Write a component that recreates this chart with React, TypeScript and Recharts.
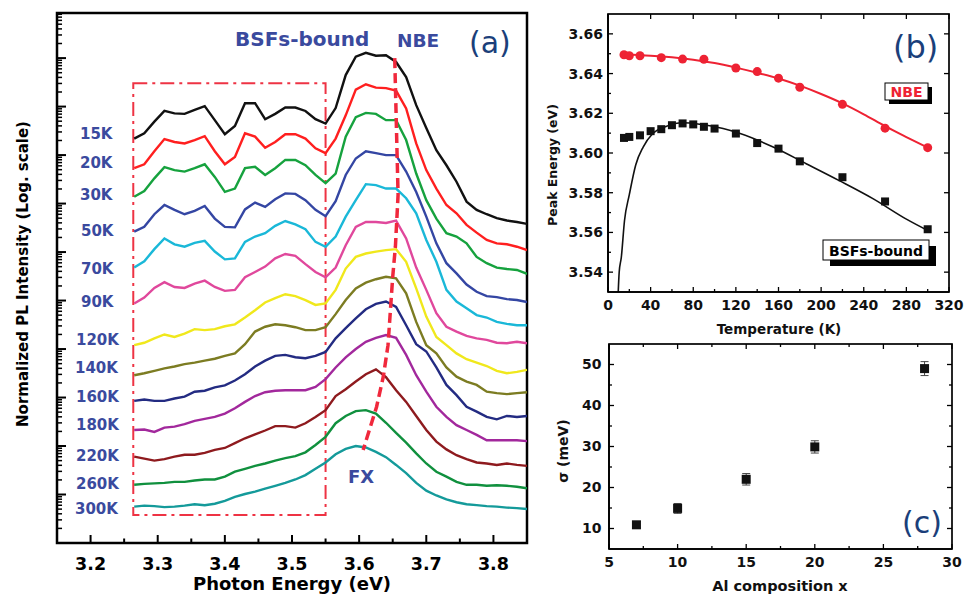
import React from 'react';
import { ComposedChart, Line, XAxis, YAxis, ReferenceArea, ReferenceLine, Scatter, ErrorBar } from 'recharts';

// ---------- Panel (a): PL spectra (log10 of normalized intensity) ----------
const energies = [3.265, 3.28, 3.295, 3.31, 3.325, 3.34, 3.355, 3.37, 3.385, 3.4, 3.415, 3.43, 3.445, 3.46, 3.475, 3.49, 3.505, 3.52, 3.535, 3.55, 3.565, 3.58, 3.595, 3.61, 3.625, 3.64, 3.655, 3.67, 3.685, 3.7, 3.715, 3.73, 3.745, 3.76, 3.775, 3.79, 3.805, 3.82, 3.835, 3.85];
const tempLabels = ['15K', '20K', '30K', '50K', '70K', '90K', '120K', '140K', '160K', '180K', '220K', '260K', '300K'];
const s15 = [8.34, 8.45, 8.69, 8.91, 8.86, 8.85, 8.93, 9.01, 8.72, 8.43, 8.6, 9.07, 9.07, 8.74, 8.85, 8.98, 8.98, 8.91, 8.74, 8.65, 8.97, 9.65, 10.03, 10.11, 10.05, 10.06, 9.92, 9.61, 9.03, 8.56, 8.1, 7.79, 7.45, 7.04, 6.87, 6.78, 6.7, 6.65, 6.62, 6.58];
const s20 = [7.73, 7.81, 8.08, 8.33, 8.27, 8.24, 8.31, 8.39, 8.08, 7.81, 7.96, 8.45, 8.38, 8.15, 8.27, 8.43, 8.43, 8.34, 8.14, 8.04, 8.34, 8.82, 9.35, 9.46, 9.39, 9.38, 9.33, 8.96, 8.24, 7.69, 7.31, 6.97, 6.8, 6.56, 6.4, 6.25, 6.18, 6.16, 6.11, 6.04];
const s30 = [7.14, 7.26, 7.52, 7.75, 7.69, 7.66, 7.73, 7.81, 7.55, 7.24, 7.31, 7.73, 7.76, 7.59, 7.73, 7.9, 7.9, 7.79, 7.59, 7.42, 7.62, 8.38, 8.78, 8.87, 8.85, 8.72, 8.72, 8.31, 7.62, 7.07, 6.69, 6.39, 6.32, 6.18, 5.9, 5.77, 5.68, 5.65, 5.63, 5.55];
const s50 = [6.42, 6.52, 6.78, 6.97, 6.87, 6.78, 6.85, 6.95, 6.69, 6.52, 6.51, 6.88, 7.02, 6.93, 7.09, 7.21, 7.2, 7.07, 6.87, 6.74, 7.05, 7.59, 7.93, 8.08, 8.04, 8.0, 8.0, 7.66, 7.24, 6.73, 6.18, 5.77, 5.56, 5.33, 5.18, 5.09, 5.07, 5.03, 5.01, 4.97];
const s70 = [5.68, 5.81, 6.06, 6.28, 6.16, 6.11, 6.19, 6.23, 6.01, 5.85, 5.87, 6.21, 6.32, 6.39, 6.54, 6.64, 6.57, 6.47, 6.21, 6.11, 6.32, 6.73, 7.07, 7.4, 7.38, 7.31, 7.31, 7.11, 6.8, 6.25, 5.8, 5.22, 4.98, 4.84, 4.7, 4.65, 4.56, 4.52, 4.49, 4.49];
const s90 = [4.94, 5.06, 5.26, 5.38, 5.28, 5.26, 5.35, 5.41, 5.28, 5.2, 5.22, 5.48, 5.59, 5.7, 5.87, 5.96, 5.92, 5.75, 5.59, 5.48, 5.68, 6.14, 6.52, 6.62, 6.62, 6.6, 6.65, 6.28, 5.68, 5.22, 4.74, 4.46, 4.36, 4.27, 4.22, 4.19, 4.13, 4.12, 4.15, 4.12];
const s120 = [4.08, 4.13, 4.22, 4.3, 4.25, 4.32, 4.41, 4.39, 4.41, 4.47, 4.51, 4.65, 4.8, 4.96, 5.05, 5.13, 5.09, 5.01, 4.91, 4.94, 5.22, 5.66, 5.9, 5.97, 6.01, 6.04, 6.06, 5.8, 5.25, 4.67, 4.25, 4.08, 3.91, 3.79, 3.72, 3.65, 3.55, 3.5, 3.53, 3.57];
const s140 = [3.46, 3.5, 3.55, 3.6, 3.64, 3.69, 3.72, 3.76, 3.8, 3.86, 3.91, 4.1, 4.36, 4.46, 4.51, 4.49, 4.45, 4.39, 4.39, 4.45, 4.72, 5.01, 5.25, 5.37, 5.44, 5.49, 5.46, 5.15, 4.56, 4.08, 3.91, 3.62, 3.43, 3.33, 3.26, 3.12, 3.09, 3.07, 3.09, 3.11];
const s160 = [2.93, 2.96, 2.93, 2.93, 2.98, 3.02, 3.12, 3.14, 3.21, 3.25, 3.35, 3.48, 3.64, 3.76, 3.86, 3.88, 3.83, 3.81, 3.86, 3.94, 4.22, 4.43, 4.63, 4.82, 4.93, 4.98, 4.87, 4.49, 4.1, 3.95, 3.62, 3.26, 3.05, 2.81, 2.71, 2.6, 2.55, 2.62, 2.6, 2.62];
const s180 = [2.33, 2.34, 2.29, 2.38, 2.4, 2.45, 2.52, 2.56, 2.6, 2.67, 2.78, 2.91, 3.03, 3.11, 3.14, 3.15, 3.15, 3.15, 3.22, 3.38, 3.62, 3.83, 4.0, 4.15, 4.23, 4.29, 4.23, 3.88, 3.46, 3.12, 2.81, 2.6, 2.43, 2.33, 2.23, 2.12, 2.12, 2.12, 2.12, 2.1];
const s220 = [1.78, 1.74, 1.7, 1.73, 1.78, 1.82, 1.82, 1.86, 1.92, 1.96, 2.06, 2.16, 2.24, 2.32, 2.41, 2.41, 2.38, 2.47, 2.6, 2.74, 3.03, 3.17, 3.33, 3.48, 3.58, 3.42, 3.15, 2.91, 2.62, 2.33, 2.09, 1.93, 1.81, 1.73, 1.66, 1.64, 1.61, 1.64, 1.61, 1.59];
const s260 = [1.2, 1.22, 1.23, 1.24, 1.26, 1.26, 1.29, 1.31, 1.31, 1.37, 1.47, 1.53, 1.59, 1.64, 1.7, 1.75, 1.79, 1.87, 2.02, 2.19, 2.47, 2.62, 2.72, 2.74, 2.67, 2.48, 2.27, 2.07, 1.85, 1.64, 1.47, 1.37, 1.26, 1.2, 1.2, 1.18, 1.19, 1.18, 1.16, 1.13];
const s300 = [0.75, 0.77, 0.76, 0.74, 0.75, 0.77, 0.8, 0.78, 0.81, 0.87, 0.95, 1.01, 1.06, 1.12, 1.18, 1.24, 1.31, 1.4, 1.53, 1.66, 1.83, 1.94, 2.0, 1.97, 1.88, 1.77, 1.61, 1.44, 1.24, 1.08, 0.98, 0.9, 0.84, 0.8, 0.78, 0.76, 0.75, 0.73, 0.72, 0.7];
const spectra = [s15, s20, s30, s50, s70, s90, s120, s140, s160, s180, s220, s260, s300];
const specColors = ['#111111', '#ff1f1f', '#16a23e', '#3446a3', '#1ab8d8', '#e0489c', '#f0e81c', '#7c7c22', '#232b82', '#a2289c', '#8e1a1e', '#10903e', '#149a9a'];

// NBE guide line (dashed) through the peak positions
const nbeGuideE = [3.653, 3.658, 3.654, 3.65, 3.643, 3.636, 3.626, 3.606];
const nbeGuideV = [10.0, 7.18, 6.11, 5.49, 4.08, 3.43, 2.81, 1.92];
// BSF region box
const boxE = [3.2636, 3.55];
const boxV = [0.58, 9.48];

const xMajA = [3.2, 3.3, 3.4, 3.5, 3.6, 3.7, 3.8];
const xMinA = [3.25, 3.35, 3.45, 3.55, 3.65, 3.75];
const yMajA = [1, 2, 3, 4, 5, 6, 7, 8, 9, 10];
const yMinA: number[] = [];
for (let k = 0; k <= 10; k++) for (let m = 2; m <= 9; m++) { const v = k + Math.log10(m); if (v < 10.93) yMinA.push(v); }

const specRows = energies.map((e, i) => {
  const r: any = { e };
  spectra.forEach((s, k) => { r[tempLabels[k]] = s[i]; });
  return r;
});
const nbeGuideRows = nbeGuideE.map((e, i) => ({ e, v: nbeGuideV[i] }));

// ---------- Panel (b): peak energies ----------
const nbeT = [15, 20, 30, 50, 70, 90, 120, 140, 160, 180, 220, 260, 300];
const nbeE = [3.6495, 3.649, 3.649, 3.648, 3.6473, 3.6472, 3.6428, 3.641, 3.6377, 3.6331, 3.6245, 3.6125, 3.6027];
const bsfT = [15, 20, 30, 40, 50, 60, 70, 80, 90, 100, 120, 140, 160, 180, 220, 260, 300];
const bsfE = [3.6076, 3.6081, 3.6089, 3.611, 3.612, 3.614, 3.6149, 3.6144, 3.6132, 3.6123, 3.6098, 3.605, 3.6022, 3.5958, 3.5878, 3.5756, 3.5616];
const nbeFitT = [15, 40, 60, 80, 100, 120, 140, 160, 180, 200, 220, 240, 260, 280, 300];
const nbeFitE = [3.6496, 3.649, 3.6482, 3.647, 3.6453, 3.643, 3.6404, 3.6375, 3.6339, 3.6297, 3.625, 3.6195, 3.6135, 3.608, 3.6027];
const bsfFitT = [9.6, 10.5, 12.5, 15.5, 20, 26, 33, 42, 55, 70, 86, 108, 124, 155, 186, 217, 249, 280, 300];
const bsfFitE = [3.53, 3.54, 3.5475, 3.566, 3.579, 3.594, 3.603, 3.6098, 3.6135, 3.6152, 3.6145, 3.6123, 3.6098, 3.603, 3.5946, 3.5861, 3.5769, 3.5667, 3.561];
const xMajB = [0, 40, 80, 120, 160, 200, 240, 280, 320];
const xMinB = [20, 60, 100, 140, 180, 220, 260, 300];
const yMajB = [3.54, 3.56, 3.58, 3.6, 3.62, 3.64, 3.66];
const yMinB = [3.55, 3.57, 3.59, 3.61, 3.63, 3.65];

const nbeRows = nbeT.map((t, i) => ({ t, e: nbeE[i] }));
const bsfRows = bsfT.map((t, i) => ({ t, e: bsfE[i] }));
const nbeFitRows = nbeFitT.map((t, i) => ({ t, e: nbeFitE[i] }));
const bsfFitRows = bsfFitT.map((t, i) => ({ t, e: bsfFitE[i] }));

// ---------- Panel (c): sigma vs Al composition ----------
const alX = [7, 10, 15, 20, 28];
const sigma = [10.9, 14.9, 22.0, 29.9, 49.0];
const sigmaErr = [0.8, 1.2, 1.4, 1.5, 1.7];
const xMajC = [5, 10, 15, 20, 25, 30];
const xMinC = [7.5, 12.5, 17.5, 22.5, 27.5];
const yMajC = [10, 20, 30, 40, 50];
const yMinC = [15, 25, 35, 45];
const cRows = alX.map((x, i) => ({ x, s: sigma[i], err: sigmaErr[i] }));

const FONT = 'DejaVu Sans';
const BLUE = '#3a4a9e';
const PANEL_LBL = '#1b3f7a';

// ---- panel (a) tick marks: reference segments ----
function xTicks(id: string, vals: number[], at: number, len: number, sw: number) {
  return vals.map((v, i) => (
    <ReferenceLine key={`${id}-${i}`} xAxisId="x" yAxisId="y" ifOverflow="visible" stroke="#000" strokeWidth={sw}
      segment={[{ x: v, y: at }, { x: v, y: at + len }]} />
  ));
}
function yTicks(id: string, vals: number[], at: number, len: number, sw: number) {
  return vals.map((v, i) => (
    <ReferenceLine key={`${id}-${i}`} xAxisId="x" yAxisId="y" ifOverflow="visible" stroke="#000" strokeWidth={sw}
      segment={[{ x: at, y: v }, { x: at + len, y: v }]} />
  ));
}

// ---- frame + inward ticks for panels (b),(c) (plot-area geometry set by the chart margins below) ----
type Box = { left: number; top: number; w: number; h: number; x0: number; x1: number; y0: number; y1: number };
function Frame({ b, xMaj, xMin, yMaj, yMin, topMinor, rightMinor }: { b: Box; xMaj: number[]; xMin: number[]; yMaj: number[]; yMin: number[]; topMinor: boolean; rightMinor: boolean }) {
  const px = (v: number) => b.left + ((v - b.x0) / (b.x1 - b.x0)) * b.w;
  const py = (v: number) => b.top + ((b.y1 - v) / (b.y1 - b.y0)) * b.h;
  const bottom = b.top + b.h, right = b.left + b.w;
  const L: any[] = [];
  xMaj.forEach((v, i) => { L.push(<line key={`xb${i}`} x1={px(v)} x2={px(v)} y1={bottom} y2={bottom - 5} />); L.push(<line key={`xt${i}`} x1={px(v)} x2={px(v)} y1={b.top} y2={b.top + 5} />); });
  xMin.forEach((v, i) => { L.push(<line key={`xbm${i}`} x1={px(v)} x2={px(v)} y1={bottom} y2={bottom - 3} />); if (topMinor) L.push(<line key={`xtm${i}`} x1={px(v)} x2={px(v)} y1={b.top} y2={b.top + 3} />); });
  yMaj.forEach((v, i) => { L.push(<line key={`yl${i}`} x1={b.left} x2={b.left + 5} y1={py(v)} y2={py(v)} />); L.push(<line key={`yr${i}`} x1={right} x2={right - 5} y1={py(v)} y2={py(v)} />); });
  yMin.forEach((v, i) => { L.push(<line key={`ylm${i}`} x1={b.left} x2={b.left + 3} y1={py(v)} y2={py(v)} />); if (rightMinor) L.push(<line key={`yrm${i}`} x1={right} x2={right - 3} y1={py(v)} y2={py(v)} />); });
  return (
    <g stroke="#000" strokeWidth={1.3}>
      {L}
      <rect x={b.left} y={b.top} width={b.w} height={b.h} fill="none" strokeWidth={1.7} />
    </g>
  );
}
const boxB: Box = { left: 540 + 68, top: 14, w: 424 - 68 - 15, h: 340 - 14 - 48, x0: 0, x1: 320, y0: 3.53, y1: 3.67 };
const boxC: Box = { left: 540 + 69, top: 330 + 14, w: 424 - 69 - 12, h: 265 - 14 - 46, x0: 5, x1: 30, y0: 5, y1: 55 };

function ChartA() {
  const dom: [number, number] = [3.15, 3.85];
  const ydom: [number, number] = [0, 10.93];
  return (
    <ComposedChart width={540} height={595} data={specRows} margin={{ top: 13, right: 13, bottom: 0, left: 57 }}>
      <XAxis xAxisId="x" dataKey="e" type="number" domain={dom} allowDataOverflow ticks={xMajA} interval={0} height={52}
        tickSize={0} tickMargin={14.6} tickLine={false} axisLine={false}
        tick={{ fontSize: 17.5, fontWeight: 'bold', fill: '#000', fontFamily: FONT }} />
      <YAxis yAxisId="y" type="number" domain={ydom} allowDataOverflow width={0} tick={false} tickLine={false} axisLine={false} />
      <ReferenceArea xAxisId="x" yAxisId="y" x1={boxE[0]} x2={boxE[1]} y1={boxV[0]} y2={boxV[1]}
        fill="none" fillOpacity={0} stroke="#ee3344" strokeWidth={2} strokeDasharray="14 5 3 5" ifOverflow="visible" />
      {tempLabels.map((t, k) => (
        <Line key={t} xAxisId="x" yAxisId="y" dataKey={t} type="linear" stroke={specColors[k]} strokeWidth={2.4}
          dot={false} activeDot={false} isAnimationActive={false} />
      ))}
      <Line xAxisId="x" yAxisId="y" data={nbeGuideRows} dataKey="v" type="linear" stroke="#f0283c" strokeWidth={3.5}
        strokeDasharray="10 5" dot={false} activeDot={false} isAnimationActive={false} />
      {xTicks('axM', xMajA, 0, 0.165, 2)}
      {xTicks('axm', xMinA, 0, 0.093, 2)}
      {yTicks('ayM', yMajA, 3.15, 0.0134, 2)}
      {yTicks('aym', yMinA, 3.15, 0.0075, 1.5)}
      <ReferenceArea xAxisId="x" yAxisId="y" x1={dom[0]} x2={dom[1]} y1={ydom[0]} y2={ydom[1]}
        fill="none" fillOpacity={0} stroke="#000" strokeWidth={2.5} ifOverflow="visible" />
    </ComposedChart>
  );
}

function ChartB() {
  const dom: [number, number] = [0, 320];
  const ydom: [number, number] = [3.53, 3.67];
  const tickStyle = { fontSize: 14, fontWeight: 'bold', fill: '#111', fontFamily: FONT };
  return (
    <ComposedChart width={424} height={340} data={bsfRows} margin={{ top: 14, right: 15, bottom: 0, left: 0 }}>
      <XAxis xAxisId="x" dataKey="t" type="number" domain={dom} ticks={xMajB} interval={0} height={48}
        tickSize={0} tickMargin={8} tickLine={false} axisLine={{ stroke: '#000', strokeWidth: 1.7 }} tick={tickStyle} />
      <YAxis yAxisId="y" type="number" domain={ydom} ticks={yMajB} interval={0} width={68}
        tickSize={0} tickMargin={5} tickLine={false} axisLine={{ stroke: '#000', strokeWidth: 1.7 }} tick={tickStyle}
        tickFormatter={(v: number) => v.toFixed(2)} />
      <Line xAxisId="x" yAxisId="y" data={nbeFitRows} dataKey="e" type="monotone" stroke="#ee2233" strokeWidth={2}
        dot={false} activeDot={false} isAnimationActive={false} />
      <Line xAxisId="x" yAxisId="y" data={bsfFitRows} dataKey="e" type="monotone" stroke="#111" strokeWidth={1.6}
        dot={false} activeDot={false} isAnimationActive={false} />
      <Scatter xAxisId="x" yAxisId="y" data={nbeRows} dataKey="e" isAnimationActive={false}
        shape={(p: any) => <circle cx={p.cx} cy={p.cy} r={4.5} fill="#ee2233" />} />
      <Scatter xAxisId="x" yAxisId="y" data={bsfRows} dataKey="e" isAnimationActive={false}
        shape={(p: any) => <rect x={p.cx - 4} y={p.cy - 4} width={8} height={8} fill="#111" />} />
    </ComposedChart>
  );
}

function ChartC() {
  const dom: [number, number] = [5, 30];
  const ydom: [number, number] = [5, 55];
  const tickStyle = { fontSize: 14, fontWeight: 'bold', fill: '#111', fontFamily: FONT };
  return (
    <ComposedChart width={424} height={265} data={cRows} margin={{ top: 14, right: 12, bottom: 0, left: 0 }}>
      <XAxis xAxisId="x" dataKey="x" type="number" domain={dom} ticks={xMajC} interval={0} height={46}
        tickSize={0} tickMargin={8} tickLine={false} axisLine={{ stroke: '#000', strokeWidth: 1.7 }} tick={tickStyle} />
      <YAxis yAxisId="y" type="number" domain={ydom} ticks={yMajC} interval={0} width={69}
        tickSize={0} tickMargin={7.6} tickLine={false} axisLine={{ stroke: '#000', strokeWidth: 1.7 }} tick={tickStyle} />
      <Scatter xAxisId="x" yAxisId="y" dataKey="s" isAnimationActive={false}
        shape={(p: any) => <rect x={p.cx - 4.5} y={p.cy - 4.5} width={9} height={9} fill="#111" />}>
        <ErrorBar dataKey="err" direction="y" width={4} stroke="#444" strokeWidth={1} />
      </Scatter>
    </ComposedChart>
  );
}

const tempLabelPos = [
  [80, 133.6], [80, 162.7], [80, 195], [81, 231], [81, 269], [81, 302], [76, 339.7],
  [75, 368], [76, 397], [76, 425], [76, 456], [76, 483.5], [75, 509],
];

export default function App() {
  return (
    <div style={{ position: 'absolute', left: 0, top: 0, width: 964, height: 595, background: '#fff', overflow: 'hidden', fontFamily: FONT }}>
      <div style={{ position: 'absolute', left: 0, top: 0 }}><ChartA /></div>
      <div style={{ position: 'absolute', left: 540, top: 0 }}><ChartB /></div>
      <div style={{ position: 'absolute', left: 540, top: 330 }}><ChartC /></div>
      <svg width={964} height={595} style={{ position: 'absolute', left: 0, top: 0, pointerEvents: 'none' }} fontFamily={FONT}>
        <Frame b={boxB} xMaj={xMajB} xMin={xMinB} yMaj={yMajB} yMin={yMinB} topMinor={false} rightMinor={false} />
        <Frame b={boxC} xMaj={xMajC} xMin={xMinC} yMaj={yMajC} yMin={yMinC} topMinor={true} rightMinor={true} />
        {/* panel (a) */}
        <text x={235} y={45.5} fontSize={20} fontWeight="bold" fill={BLUE}>BSFs-bound</text>
        <text x={397} y={47} fontSize={18.5} fontWeight="bold" fill={BLUE}>NBE</text>
        <text x={469} y={52.5} fontSize={30} fill={PANEL_LBL}>(a)</text>
        {tempLabels.map((t, k) => (
          <text key={t} x={tempLabelPos[k][0]} y={tempLabelPos[k][1] + 5.4} fontSize={15} fontWeight="bold" fill={BLUE}>{t}</text>
        ))}
        <text x={348} y={483} fontSize={18} fontWeight="bold" fill={BLUE}>FX</text>
        <text transform="translate(28,274) rotate(-90)" textAnchor="middle" fontSize={15} fontWeight="bold" fill="#000">Normalized PL Intensity (Log. scale)</text>
        <text x={292} y={590} textAnchor="middle" fontSize={18} fontWeight="bold" fill="#000">Photon Energy (eV)</text>
        {/* panel (b) */}
        <text x={893} y={57.5} fontSize={32} fill={PANEL_LBL}>(b)</text>
        <rect x={889} y={87} width={43} height={17} fill="#000" />
        <rect x={885} y={83} width={43} height={17} fill="#fff" stroke="#000" strokeWidth={1} />
        <text x={906.5} y={97} textAnchor="middle" fontSize={14} fontWeight="bold" fill="#ee2233">NBE</text>
        <rect x={830} y={246} width={106} height={20} fill="#000" />
        <rect x={823} y={240} width={106} height={20} fill="#fff" stroke="#000" strokeWidth={1} />
        <text x={876} y={255.5} textAnchor="middle" fontSize={14} fontWeight="bold" fill="#000">BSFs-bound</text>
        <text transform="translate(557,165) rotate(-90)" textAnchor="middle" fontSize={12.5} fontWeight="bold" fill="#111">Peak Energy (eV)</text>
        <text x={779} y={334} textAnchor="middle" fontSize={13.5} fontWeight="bold" fill="#111">Temperature (K)</text>
        {/* panel (c) */}
        <text x={902} y={533} fontSize={30} fill={PANEL_LBL}>(c)</text>
        <text transform="translate(568,451) rotate(-90)" textAnchor="middle" fontSize={14} fontWeight="bold" fill="#111">σ (meV)</text>
        <text x={780} y={591} textAnchor="middle" fontSize={14.5} fontWeight="bold" fill="#111">Al composition x</text>
      </svg>
    </div>
  );
}
